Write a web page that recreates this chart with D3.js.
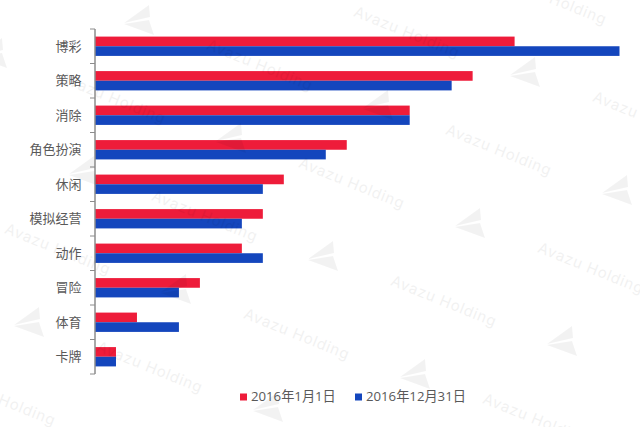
<!DOCTYPE html>
<html>
<head>
<meta charset="utf-8">
<script src="https://d3js.org/d3.v7.min.js"></script>
<style>
  html, body { margin: 0; padding: 0; background: #fff; }
  text { font-family: "Open Sans", "Noto Sans CJK SC", sans-serif; }
</style>
</head>
<body>
<div id="chart"></div>
<script>
// chart data
var categories = ["博彩", "策略", "消除", "角色扮演", "休闲", "模拟经营", "动作", "冒险", "体育", "卡牌"];
var seriesNames = ["2016年1月1日", "2016年12月31日"];
var jan = [20, 18, 15, 12, 9, 8, 7, 5, 2, 1];
var dec = [25, 17, 15, 11, 8, 7, 8, 4, 4, 1];
var colors = ["#ee1c3a", "#1446bd"];

var svgWidth = 640;
var svgHeight = 427;
var margin = { top: 29, right: 20, bottom: 53, left: 95 };
var chartWidth = svgWidth - margin.left - margin.right;
var chartHeight = svgHeight - margin.top - margin.bottom;

var svg = d3.select("#chart")
  .append("svg")
  .attr("width", svgWidth)
  .attr("height", svgHeight)
  .style("display", "block");

var chartGroup = svg.append("g")
  .attr("transform", `translate(${margin.left}, ${margin.top})`);

// scales
var x = d3.scaleLinear().domain([0, 25]).range([0, 524.5]);
var y = d3.scaleBand().domain(categories).range([0, chartHeight]).paddingInner(0.44).paddingOuter(0.22);
var y1 = d3.scaleBand().domain([0, 1]).range([0, y.bandwidth()]);

[jan, dec].forEach(function(values, s) {
  chartGroup.selectAll(".bar" + s)
    .data(values)
    .enter()
    .append("rect")
    .attr("class", "bar" + s)
    .attr("x", 0)
    .attr("y", function(d, i) { return y(categories[i]) + y1(s); })
    .attr("width", function(d) { return x(d); })
    .attr("height", y1.bandwidth())
    .attr("fill", colors[s]);
});

// ticks sit between the categories
var axisY = chartGroup.append("g");
axisY.append("line")
  .attr("y1", 0)
  .attr("y2", chartHeight)
  .attr("stroke", "#8c8c8c")
  .attr("stroke-width", 1.5);
axisY.selectAll(".tick")
  .data(d3.range(categories.length + 1))
  .enter()
  .append("line")
  .attr("x1", -5)
  .attr("x2", 0)
  .attr("y1", function(d) { return d * y.step(); })
  .attr("y2", function(d) { return d * y.step(); })
  .attr("stroke", "#8c8c8c");
axisY.selectAll(".label")
  .data(categories)
  .enter()
  .append("text")
  .attr("x", -13.5)
  .attr("y", function(d) { return y(d) + y.bandwidth() / 2; })
  .attr("dy", "0.35em")
  .attr("text-anchor", "end")
  .attr("font-size", 13)
  .attr("fill", "#595959")
  .text(function(d) { return d; });

// legend
var legendX = [240, 355];
seriesNames.forEach(function(name, s) {
  var g = svg.append("g").attr("transform", `translate(${legendX[s]}, 397)`);
  g.append("rect")
    .attr("x", 0)
    .attr("y", -3.5)
    .attr("width", 7)
    .attr("height", 7)
    .attr("fill", colors[s]);
  g.append("text")
    .attr("x", 11)
    .attr("dy", "0.33em")
    .attr("font-size", 13.2)
    .attr("fill", "#595959")
    .text(name);
});

// watermark lies over the chart on a repeating lattice
var wm = svg.append("g").attr("fill", "#000");
d3.range(-3, 6).forEach(function(i) {
  d3.range(-2, 6).forEach(function(j) {
    var px = 473 + i * -147 + j * 92;
    var py = 225 + i * 33 + j * 118;
    if (px > -10 && px < 650 && py > -10 && py < 440) {
      wm.append("path")
        .attr("transform", `translate(${px}, ${py})`)
        .attr("d", "M-18,1 L7,-17 L8,-5 Z M-18,2 L7,-2 L12,13 Z")
        .attr("opacity", 0.05);
    }
    var tx = px + 26;
    var ty = py - 75;
    if (tx > -10 && tx < 650 && ty > -10 && ty < 440) {
      wm.append("text")
        .attr("transform", `translate(${tx}, ${ty}) rotate(22)`)
        .attr("text-anchor", "middle")
        .attr("dy", "0.35em")
        .attr("font-size", 15)
        .attr("letter-spacing", 0.8)
        .attr("style", "font-family: Inter, sans-serif")
        .attr("opacity", 0.05)
        .text("Avazu Holding");
    }
  });
});
</script>
</body>
</html>
